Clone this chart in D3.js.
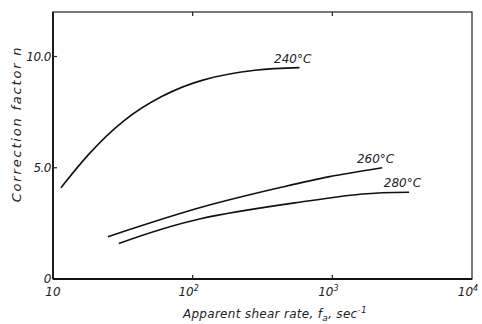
<!DOCTYPE html>
<html>
<head>
<meta charset="utf-8">
<script src="https://cdn.jsdelivr.net/npm/d3@7"></script>
<style>
  body { margin: 0; background: #fff; }
  text { font-family: "DejaVu Sans", sans-serif; font-style: italic; fill: #222; }
</style>
</head>
<body>
<svg width="482" height="324"></svg>
<script>
// curves: [shear rate, n]
const curve240 = [[11.4, 4.1], [18, 5.6], [32, 7.1], [60, 8.2], [120, 8.95], [280, 9.38], [581, 9.5]];
const curve260 = [[24.7, 1.9], [112, 3.2], [417, 4.1], [955, 4.6], [2275, 5.0]];
const curve280 = [[29.6, 1.6], [112, 2.7], [581, 3.45], [1637, 3.82], [3548, 3.9]];
const curveNames = ['240°C', '260°C', '280°C'];
const xTicks = [10, 100, 1000, 10000];
const xTickExp = ['', '2', '3', '4'];
const yTicks = [0, 5, 10];
const yTickLabels = ['0', '5.0', '10.0'];

const svg = d3.select('svg');
const mLeft = 53, mRight = 472, mTop = 12, mBottom = 279;

const x = d3.scaleLog().domain([10, 10000]).range([mLeft, mRight]);
const y = d3.scaleLinear().domain([0, 12]).range([mBottom, mTop]);

// frame
svg.append('rect')
  .attr('x', mLeft).attr('y', mTop)
  .attr('width', mRight - mLeft).attr('height', mBottom - mTop)
  .attr('fill', 'none').attr('stroke', '#222').attr('stroke-width', 1.2);
svg.append('line')
  .attr('x1', mLeft).attr('x2', mRight).attr('y1', mBottom).attr('y2', mBottom)
  .attr('stroke', '#111').attr('stroke-width', 1.8);
svg.append('line')
  .attr('x1', mLeft).attr('x2', mLeft).attr('y1', mTop).attr('y2', mBottom)
  .attr('stroke', '#111').attr('stroke-width', 1.8);

// ticks, pointing inward
svg.selectAll('.xt').data(xTicks.slice(1, -1)).join('path')
  .attr('d', d => `M${x(d)},${mBottom}v-4M${x(d)},${mTop}v4`)
  .attr('stroke', '#222').attr('stroke-width', 1.2);
svg.selectAll('.yt').data(yTicks.slice(1)).join('path')
  .attr('d', d => `M${mLeft},${y(d)}h4`)
  .attr('stroke', '#222').attr('stroke-width', 1.2);

// tick labels
const xl = svg.selectAll('.xl').data(xTicks).join('text')
  .attr('x', (d, i) => x(d) - (i === 0 ? 0 : 4))
  .attr('y', mBottom + 17)
  .attr('text-anchor', 'middle')
  .attr('font-size', 12);
xl.append('tspan').text('10');
xl.append('tspan').attr('dy', -5).attr('font-size', 8).text((d, i) => xTickExp[i]);

svg.selectAll('.yl').data(yTicks).join('text')
  .attr('x', mLeft - 2)
  .attr('y', d => y(d) + 4)
  .attr('text-anchor', 'end')
  .attr('font-size', 12)
  .attr('letter-spacing', -0.5)
  .text((d, i) => yTickLabels[i]);

// axis titles
svg.append('text')
  .attr('transform', `translate(21,${124}) rotate(-90)`)
  .attr('text-anchor', 'middle')
  .attr('font-size', 13)
  .attr('letter-spacing', 1.8)
  .text('Correction factor  n');

const xt = svg.append('text')
  .attr('x', 275).attr('y', 318)
  .attr('text-anchor', 'middle')
  .attr('font-size', 12)
  .attr('letter-spacing', 0.3);
xt.append('tspan').text('Apparent shear rate, f');
xt.append('tspan').attr('font-size', 9).attr('dy', 3).text('a');
xt.append('tspan').attr('dy', -3).text(', sec');
xt.append('tspan').attr('font-size', 9).attr('dy', -5).text('-1');

// curves
const line = d3.line()
  .x(d => x(d[0]))
  .y(d => y(d[1]))
  .curve(d3.curveNatural);

const curves = [curve240, curve260, curve280];
svg.selectAll('.curve').data(curves).join('path')
  .attr('d', line)
  .attr('fill', 'none')
  .attr('stroke', '#111')
  .attr('stroke-width', 1.6);

svg.selectAll('.cl').data(curves).join('text')
  .attr('x', d => x(d[d.length - 1][0]) + 12)
  .attr('y', d => y(d[d.length - 1][1]) - 5)
  .attr('text-anchor', 'end')
  .attr('font-size', 12)
  .text((d, i) => curveNames[i]);
</script>
</body>
</html>
